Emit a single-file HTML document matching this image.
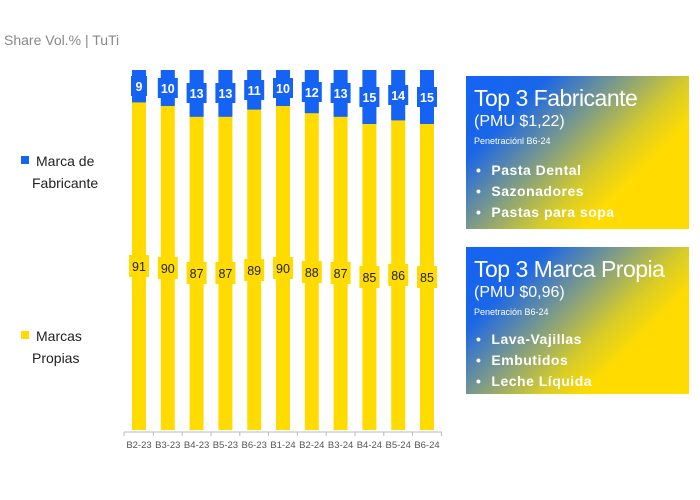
<!DOCTYPE html>
<html><head><meta charset="utf-8"><style>
body{margin:0;background:#fff;width:700px;height:500px;overflow:hidden;font-family:"Liberation Sans",sans-serif}
.box{position:absolute;left:466px;width:223px;background:linear-gradient(135deg,#1463f5 0%,#1a66e8 22%,#7f9c86 42%,#d8cc28 60%,#ffdb00 72%,#ffdb00 100%);color:#fff}
.box .t{font-size:23px;line-height:26px;margin:9px 0 0 8px;letter-spacing:-0.5px}
.box .p{font-size:16px;line-height:20px;margin:1px 0 0 8px}
.box .s{font-size:9px;line-height:12px;margin:3px 0 0 8px}
.box ul{margin:13px 0 0 0;padding:0 0 0 10px;list-style:none;font-weight:bold;font-size:14px;line-height:21px;letter-spacing:0.5px}
.box li:before{content:"•";margin-right:10px}
</style></head><body>
<svg width="700" height="500" style="position:absolute;left:0;top:0" font-family="Liberation Sans, sans-serif">
<text x="4" y="45" font-size="14" fill="#888">Share Vol.% | TuTi</text>
<rect x="21" y="156" width="8" height="8" fill="#1463f5"/>
<text x="36" y="166" font-size="14" fill="#222">Marca de</text>
<text x="32" y="188" font-size="14" fill="#222">Fabricante</text>
<rect x="21" y="331" width="8" height="8" fill="#ffdb00"/>
<text x="36" y="341" font-size="14" fill="#222">Marcas</text>
<text x="32" y="363" font-size="14" fill="#222">Propias</text>
<g fill="#ffdb00">
<rect x="132" y="70" width="14" height="360"/><rect x="160.8" y="70" width="14" height="360"/><rect x="189.6" y="70" width="14" height="360"/><rect x="218.4" y="70" width="14" height="360"/><rect x="247.2" y="70" width="14" height="360"/><rect x="276" y="70" width="14" height="360"/><rect x="304.8" y="70" width="14" height="360"/><rect x="333.6" y="70" width="14" height="360"/><rect x="362.4" y="70" width="14" height="360"/><rect x="391.2" y="70" width="14" height="360"/><rect x="420" y="70" width="14" height="360"/>
<rect x="129" y="255" width="20" height="22"/><rect x="157.8" y="257" width="20" height="22"/><rect x="186.6" y="262" width="20" height="22"/><rect x="215.4" y="262" width="20" height="22"/><rect x="244.2" y="259" width="20" height="22"/><rect x="273" y="257" width="20" height="22"/><rect x="301.8" y="261" width="20" height="22"/><rect x="330.6" y="262" width="20" height="22"/><rect x="359.4" y="266" width="20" height="22"/><rect x="388.2" y="264" width="20" height="22"/><rect x="417" y="266" width="20" height="22"/>
</g>
<g fill="#1463f5">
<rect x="132" y="70" width="14" height="32.4"/><rect x="160.8" y="70" width="14" height="36"/><rect x="189.6" y="70" width="14" height="46.8"/><rect x="218.4" y="70" width="14" height="46.8"/><rect x="247.2" y="70" width="14" height="39.6"/><rect x="276" y="70" width="14" height="36"/><rect x="304.8" y="70" width="14" height="43.2"/><rect x="333.6" y="70" width="14" height="46.8"/><rect x="362.4" y="70" width="14" height="54"/><rect x="391.2" y="70" width="14" height="50.4"/><rect x="420" y="70" width="14" height="54"/>
<rect x="131" y="76" width="16" height="20"/><rect x="157.8" y="78" width="20" height="20"/><rect x="186.6" y="83" width="20" height="20"/><rect x="215.4" y="83" width="20" height="20"/><rect x="244.2" y="80" width="20" height="20"/><rect x="273" y="78" width="20" height="20"/><rect x="301.8" y="82" width="20" height="20"/><rect x="330.6" y="83" width="20" height="20"/><rect x="359.4" y="87" width="20" height="20"/><rect x="388.2" y="85" width="20" height="20"/><rect x="417" y="87" width="20" height="20"/>
</g>
<g fill="#fff" font-size="12.5" font-weight="bold" text-anchor="middle">
<text x="139" y="91">9</text><text x="167.8" y="93">10</text><text x="196.6" y="98">13</text><text x="225.4" y="98">13</text><text x="254.2" y="95">11</text><text x="283" y="93">10</text><text x="311.8" y="97">12</text><text x="340.6" y="98">13</text><text x="369.4" y="102">15</text><text x="398.2" y="100">14</text><text x="427" y="102">15</text>
</g>
<g fill="#222" font-size="12.5" text-anchor="middle">
<text x="139" y="271">91</text><text x="167.8" y="273">90</text><text x="196.6" y="278">87</text><text x="225.4" y="278">87</text><text x="254.2" y="275">89</text><text x="283" y="273">90</text><text x="311.8" y="277">88</text><text x="340.6" y="278">87</text><text x="369.4" y="282">85</text><text x="398.2" y="280">86</text><text x="427" y="282">85</text>
</g>
<line x1="124" y1="432" x2="442" y2="432" stroke="#bbb" stroke-width="1"/>
<g stroke="#bbb"><line x1="124" y1="432" x2="124" y2="436"/><line x1="153.4" y1="432" x2="153.4" y2="436"/><line x1="182.2" y1="432" x2="182.2" y2="436"/><line x1="211" y1="432" x2="211" y2="436"/><line x1="239.8" y1="432" x2="239.8" y2="436"/><line x1="268.6" y1="432" x2="268.6" y2="436"/><line x1="297.4" y1="432" x2="297.4" y2="436"/><line x1="326.2" y1="432" x2="326.2" y2="436"/><line x1="355" y1="432" x2="355" y2="436"/><line x1="383.8" y1="432" x2="383.8" y2="436"/><line x1="412.6" y1="432" x2="412.6" y2="436"/><line x1="441.4" y1="432" x2="441.4" y2="436"/></g>
<g fill="#555" font-size="9.5" text-anchor="middle">
<text x="139" y="448">B2-23</text><text x="167.8" y="448">B3-23</text><text x="196.6" y="448">B4-23</text><text x="225.4" y="448">B5-23</text><text x="254.2" y="448">B6-23</text><text x="283" y="448">B1-24</text><text x="311.8" y="448">B2-24</text><text x="340.6" y="448">B3-24</text><text x="369.4" y="448">B4-24</text><text x="398.2" y="448">B5-24</text><text x="427" y="448">B6-24</text>
</g>
</svg>
<div class="box" style="top:76px;height:153px">
<div class="t">Top 3 Fabricante</div>
<div class="p">(PMU $1,22)</div>
<div class="s">Penetraciónl B6-24</div>
<ul><li>Pasta Dental</li><li>Sazonadores</li><li>Pastas para sopa</li></ul>
</div>
<div class="box" style="top:247px;height:147px">
<div class="t">Top 3 Marca Propia</div>
<div class="p">(PMU $0,96)</div>
<div class="s">Penetración B6-24</div>
<ul style="margin-top:11px"><li>Lava-Vajillas</li><li>Embutidos</li><li>Leche Líquida</li></ul>
</div>
</body></html>
